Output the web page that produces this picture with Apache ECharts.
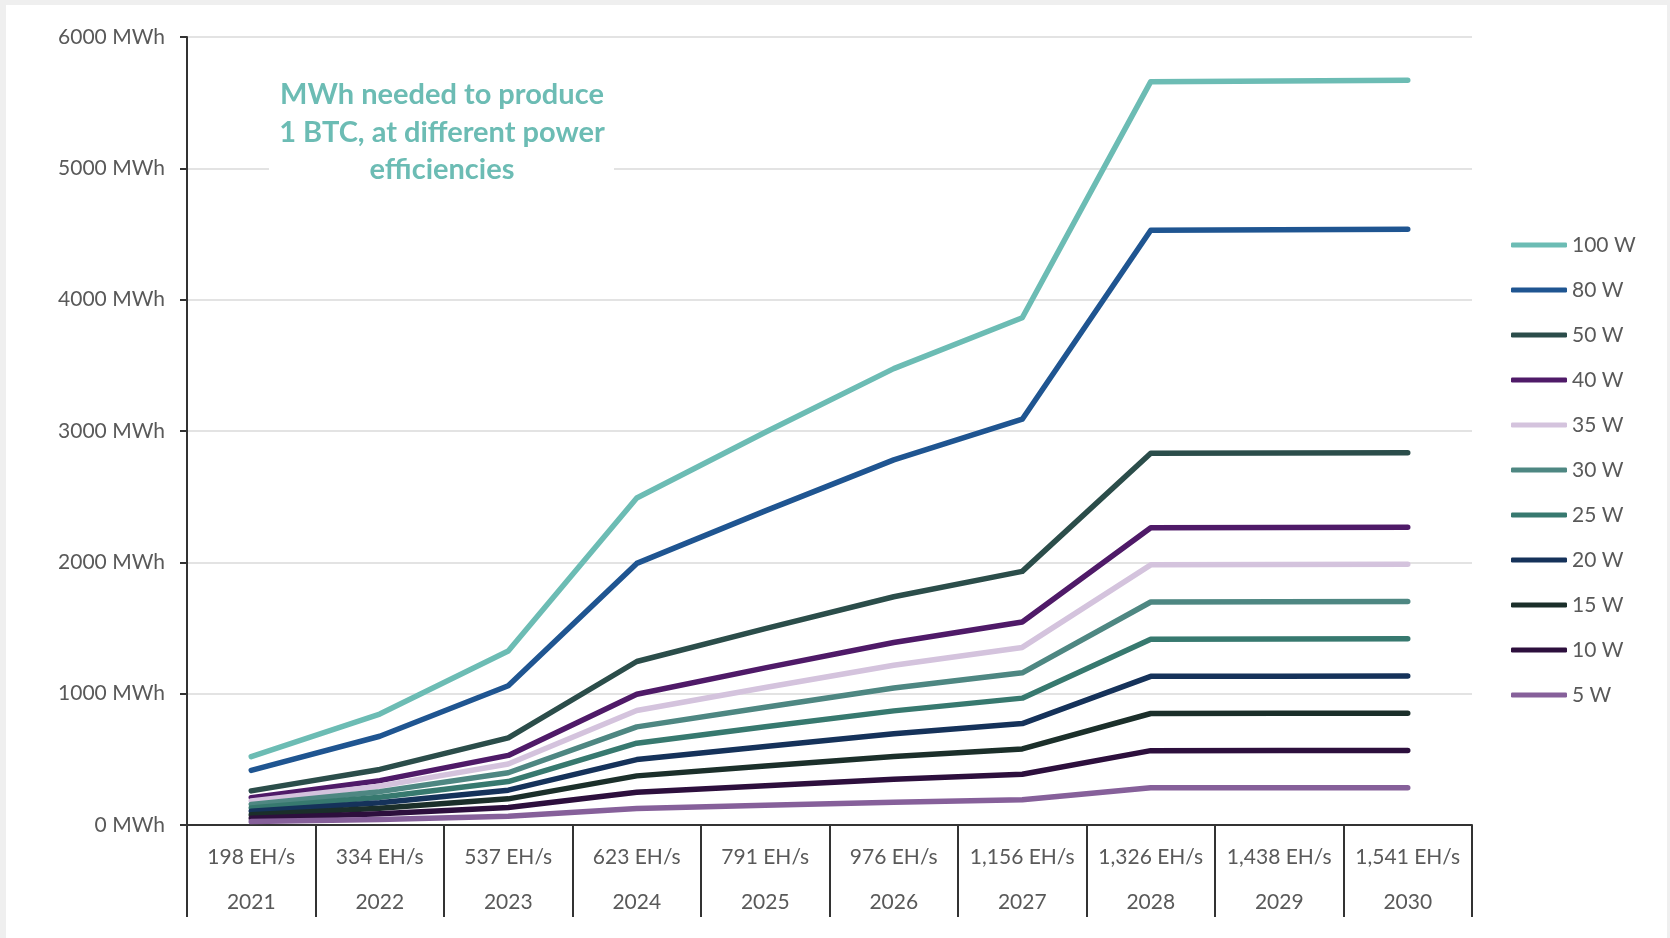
<!DOCTYPE html>
<html>
<head>
<meta charset="utf-8">
<script src="https://cdn.jsdelivr.net/npm/echarts@6/dist/echarts.min.js"></script>
<style>
  html, body { margin: 0; padding: 0; width: 1670px; height: 938px; background: #efefef; overflow: hidden; }
  #panel { position: absolute; left: 6px; top: 5px; width: 1661px; height: 933px; background: #ffffff; }
  #chart { position: absolute; left: 0; top: 0; width: 1670px; height: 938px; }
</style>
</head>
<body>
<div id="panel"></div>
<div id="chart"></div>
<script>
// ---- Data ----
const hashrates = ['198 EH/s', '334 EH/s', '537 EH/s', '623 EH/s', '791 EH/s', '976 EH/s', '1,156 EH/s', '1,326 EH/s', '1,438 EH/s', '1,541 EH/s'];
const years = ['2021', '2022', '2023', '2024', '2025', '2026', '2027', '2028', '2029', '2030'];
const seriesNames = ['100 W', '80 W', '50 W', '40 W', '35 W', '30 W', '25 W', '20 W', '15 W', '10 W', '5 W'];
const w100 = [520, 845, 1325, 2490, 2990, 3475, 3862, 5660, 5665, 5670];
const w80  = [416, 676, 1060, 1992, 2392, 2780, 3090, 4528, 4532, 4536];
const w50  = [260, 423, 663, 1245, 1495, 1738, 1931, 2830, 2833, 2835];
const w40  = [208, 338, 530, 996, 1196, 1390, 1545, 2264, 2266, 2268];
const w35  = [182, 296, 464, 872, 1047, 1216, 1352, 1981, 1983, 1985];
const w30  = [156, 254, 398, 747, 897, 1043, 1159, 1698, 1700, 1701];
const w25  = [130, 211, 331, 623, 748, 869, 966, 1415, 1416, 1418];
const w20  = [104, 169, 265, 498, 598, 695, 772, 1132, 1133, 1134];
const w15  = [78, 127, 199, 374, 449, 521, 579, 849, 850, 851];
const w10  = [52, 85, 133, 249, 299, 348, 386, 566, 567, 567];
const w5   = [26, 42, 66, 125, 150, 174, 193, 283, 283, 284];
const yTicks = { min: 0, max: 6000, interval: 1000, unit: 'MWh' };
const titleText = 'MWh needed to produce\n1 BTC, at different power\nefficiencies';

// ---- Styles ----
const colors = ['#6cbcb4', '#1f5591', '#2b4d4a', '#4f1a68', '#d4c3dd', '#4e8782', '#37796f', '#15325a', '#1b2f2a', '#2d0f3d', '#86609a'];
const seriesData = [w100, w80, w50, w40, w35, w30, w25, w20, w15, w10, w5];
const FONT = 'Lato';
const TXT = '#595959';

const categories = hashrates.map((h, i) => h + '\n' + years[i]);

const chart = echarts.init(document.getElementById('chart'), null, { renderer: 'canvas' });
chart.setOption({
  backgroundColor: 'transparent',
  animation: false,
  textStyle: { fontFamily: FONT },
  grid: { left: 187, right: 198, top: 37, bottom: 113, containLabel: false },
  xAxis: {
    type: 'category',
    data: categories,
    boundaryGap: true,
    axisLine: { show: true, lineStyle: { color: '#333333', width: 2 } },
    axisTick: { show: true, interval: 0, length: 92, lineStyle: { color: '#333333', width: 2 } },
    axisLabel: {
      interval: 0,
      margin: 10,
      color: TXT,
      fontFamily: FONT,
      fontSize: 21,
      lineHeight: 45,
      formatter: function (v) {
        const p = v.split('\n');
        return '{a|' + p[0] + '}\n{b|' + p[1] + '}';
      },
      rich: {
        a: { fontSize: 21, lineHeight: 45, color: TXT, fontFamily: FONT },
        b: { fontSize: 21, lineHeight: 45, color: TXT, fontFamily: FONT }
      }
    },
    splitLine: { show: false }
  },
  yAxis: {
    type: 'value',
    min: yTicks.min,
    max: yTicks.max,
    interval: yTicks.interval,
    axisLine: { show: true, lineStyle: { color: '#333333', width: 2 } },
    axisTick: { show: true, length: 7, lineStyle: { color: '#333333', width: 2 } },
    axisLabel: { margin: 22, color: TXT, fontFamily: FONT, fontSize: 21, formatter: function (v) { return String(v) + ' ' + yTicks.unit; } },
    splitLine: { show: true, lineStyle: { color: '#dadada', width: 1.5 } }
  },
  legend: {
    orient: 'vertical',
    left: 1506,
    top: 228,
    itemWidth: 56,
    itemHeight: 5,
    itemGap: 21,
    icon: 'roundRect',
    data: seriesNames,
    textStyle: { color: TXT, fontFamily: FONT, fontSize: 21, lineHeight: 24 }
  },
  graphic: [
    { type: 'rect', z: 50, shape: { x: 269, y: 76, width: 345, height: 116 }, style: { fill: '#ffffff' } },
    { type: 'text', z: 51, x: 442, y: 76, style: { text: titleText, align: 'center', verticalAlign: 'top', fill: '#6cbcb4', font: 'bold 29px Lato', lineHeight: 37.5 } }
  ],
  series: seriesNames.map((name, i) => ({
    name: name,
    type: 'line',
    data: seriesData[i],
    symbol: 'none',
    showSymbol: false,
    smooth: false,
    color: colors[i],
    lineStyle: { color: colors[i], width: 5.5, cap: 'round', join: 'round' },
    z: 2 + i
  }))
});
</script>
</body>
</html>
